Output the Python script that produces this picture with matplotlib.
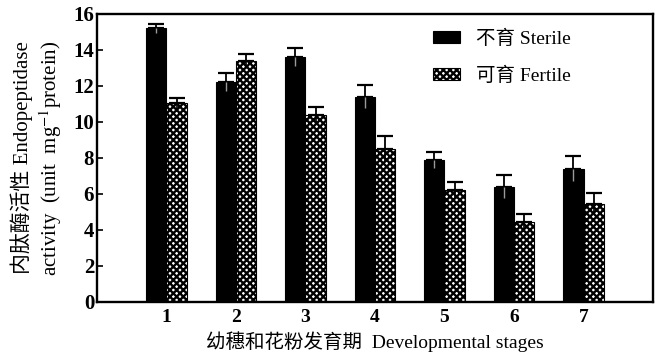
import matplotlib
matplotlib.use("Agg")
import matplotlib.pyplot as plt
import numpy as np

plt.rcParams['font.family'] = ['Liberation Serif', 'Noto Sans CJK SC']
plt.rcParams['hatch.linewidth'] = 1.7
plt.rcParams['mathtext.fontset'] = 'stix'

stages = ['1', '2', '3', '4', '5', '6', '7']
sterile = [15.2, 12.2, 13.6, 11.4, 7.9, 6.4, 7.4]
sterile_err = [0.25, 0.5, 0.5, 0.65, 0.45, 0.65, 0.7]
fertile = [11.05, 13.4, 10.4, 8.5, 6.2, 4.45, 5.45]
fertile_err = [0.3, 0.35, 0.4, 0.7, 0.45, 0.45, 0.6]
yticks = [0, 2, 4, 6, 8, 10, 12, 14, 16]

fig = plt.figure(figsize=(6.55, 3.56), dpi=100)
ax = fig.add_axes([0.148, 0.152, 0.849, 0.809])

x = np.arange(1, len(stages) + 1)
w = 0.29

ax.bar(x - w / 2, sterile, w, color='black', edgecolor='black', linewidth=0.8,
       label='不育 Sterile', zorder=2)
ax.bar(x + w / 2, fertile, w, color='white', edgecolor='black', hatch='xxxxx',
       linewidth=0.8, label='可育 Fertile', zorder=2)

# upper whiskers with caps
ax.errorbar(x - w / 2, sterile, yerr=[np.zeros(len(x)), sterile_err], fmt='none',
            ecolor='black', elinewidth=1.3, capsize=6, capthick=1.6, zorder=3)
ax.errorbar(x + w / 2, fertile, yerr=[np.zeros(len(x)), fertile_err], fmt='none',
            ecolor='black', elinewidth=1.3, capsize=6, capthick=1.6, zorder=3)
# lower whiskers run down inside the bars
ax.vlines(x - w / 2, np.array(sterile) - np.array(sterile_err), sterile,
          color='#9a9a9a', linewidth=1.0, zorder=3)
ax.vlines(x + w / 2, np.array(fertile) - np.array(fertile_err), fertile,
          color='black', linewidth=1.2, zorder=3)

ax.set_xlim(0, 8)
ax.set_ylim(0, 16)
ax.set_xticks(x)
ax.set_xticklabels(stages)
ax.set_yticks(yticks)
ax.tick_params(axis='y', direction='in', length=4, width=1.2, labelsize=15, pad=2)
ax.tick_params(axis='x', length=0, labelsize=14, pad=5)
for t in ax.get_yticklabels() + ax.get_xticklabels():
    t.set_fontweight('bold')
for s in ax.spines.values():
    s.set_linewidth(1.7)

ax.set_xlabel('幼穗和花粉发育期  Developmental stages', fontsize=14, labelpad=4)
ax.set_ylabel('内肽酶活性 Endopeptidase\nactivity  (unit  mg$^{-1}$protein)',
              fontsize=15, labelpad=7, linespacing=1.2)

leg = ax.legend(loc='upper left', bbox_to_anchor=(0.572, 1.005), frameon=False,
                fontsize=14, handlelength=1.4, handleheight=0.6,
                handletextpad=0.85, labelspacing=0.95)

fig.savefig('out.png', dpi=100)
